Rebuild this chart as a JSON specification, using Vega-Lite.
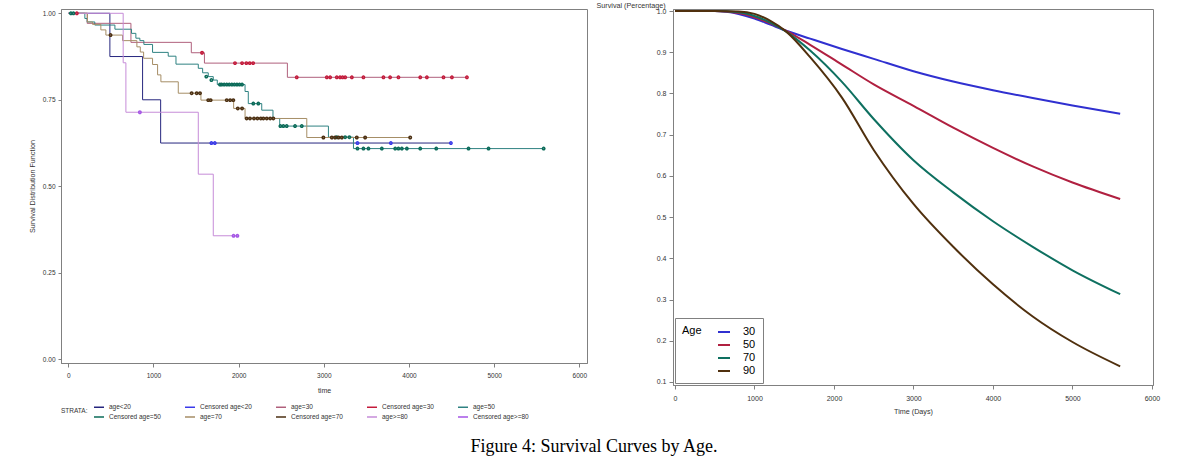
{
  "$schema": "https://vega.github.io/schema/vega-lite/v6.json",
  "padding": {"left": 27, "top": 0, "right": 0, "bottom": 0},
  "spacing": 7,
  "config": {
    "font": "Liberation Sans",
    "view": {"stroke": "#808080"},
    "axis": {"grid": false, "domainColor": "#808080", "tickColor": "#808080", "labelColor": "#333333", "titleColor": "#333333", "titleFontWeight": "normal"}
  },
  "title": {
    "text": "Figure 4: Survival Curves by Age.",
    "orient": "bottom", "anchor": "middle", "offset": 16,
    "font": "Liberation Serif", "fontSize": 18, "fontWeight": "normal", "color": "black"
  },
  "datasets": {
    "km": [
      {"key": "age<20", "t": 0, "s": 1}, {"key": "age<20", "t": 488, "s": 0.875}, {"key": "age<20", "t": 872, "s": 0.75}, {"key": "age<20", "t": 1084, "s": 0.625}, {"key": "age<20", "t": 4492, "s": 0.625},
      {"key": "age=30", "t": 0, "s": 1}, {"key": "age=30", "t": 221, "s": 0.971}, {"key": "age=30", "t": 735, "s": 0.916}, {"key": "age=30", "t": 1444, "s": 0.886}, {"key": "age=30", "t": 1598, "s": 0.856}, {"key": "age=30", "t": 2572, "s": 0.815}, {"key": "age=30", "t": 4680, "s": 0.815},
      {"key": "age=50", "t": 0, "s": 1}, {"key": "age=50", "t": 194, "s": 0.985}, {"key": "age=50", "t": 221, "s": 0.975}, {"key": "age=50", "t": 311, "s": 0.966}, {"key": "age=50", "t": 547, "s": 0.954}, {"key": "age=50", "t": 742, "s": 0.942}, {"key": "age=50", "t": 793, "s": 0.928}, {"key": "age=50", "t": 840, "s": 0.921}, {"key": "age=50", "t": 887, "s": 0.91}, {"key": "age=50", "t": 989, "s": 0.887}, {"key": "age=50", "t": 1173, "s": 0.876}, {"key": "age=50", "t": 1264, "s": 0.853}, {"key": "age=50", "t": 1526, "s": 0.841}, {"key": "age=50", "t": 1577, "s": 0.828}, {"key": "age=50", "t": 1643, "s": 0.817}, {"key": "age=50", "t": 1702, "s": 0.807}, {"key": "age=50", "t": 1749, "s": 0.794}, {"key": "age=50", "t": 2075, "s": 0.774}, {"key": "age=50", "t": 2113, "s": 0.739}, {"key": "age=50", "t": 2271, "s": 0.72}, {"key": "age=50", "t": 2403, "s": 0.696}, {"key": "age=50", "t": 2482, "s": 0.674}, {"key": "age=50", "t": 3054, "s": 0.642}, {"key": "age=50", "t": 3348, "s": 0.609}, {"key": "age=50", "t": 5581, "s": 0.609},
      {"key": "age=70", "t": 0, "s": 1}, {"key": "age=70", "t": 225, "s": 0.975}, {"key": "age=70", "t": 284, "s": 0.968}, {"key": "age=70", "t": 382, "s": 0.952}, {"key": "age=70", "t": 441, "s": 0.937}, {"key": "age=70", "t": 637, "s": 0.921}, {"key": "age=70", "t": 805, "s": 0.903}, {"key": "age=70", "t": 845, "s": 0.888}, {"key": "age=70", "t": 884, "s": 0.87}, {"key": "age=70", "t": 989, "s": 0.852}, {"key": "age=70", "t": 1048, "s": 0.822}, {"key": "age=70", "t": 1087, "s": 0.802}, {"key": "age=70", "t": 1291, "s": 0.769}, {"key": "age=70", "t": 1557, "s": 0.749}, {"key": "age=70", "t": 1941, "s": 0.725}, {"key": "age=70", "t": 2075, "s": 0.696}, {"key": "age=70", "t": 2800, "s": 0.641}, {"key": "age=70", "t": 4014, "s": 0.641},
      {"key": "age>=80", "t": 0, "s": 1}, {"key": "age>=80", "t": 644, "s": 0.857}, {"key": "age>=80", "t": 676, "s": 0.714}, {"key": "age>=80", "t": 1526, "s": 0.535}, {"key": "age>=80", "t": 1702, "s": 0.357}, {"key": "age>=80", "t": 1992, "s": 0.357}
    ],
    "cens": [
      {"key": "Censored age<20", "t": 1680, "s": 0.625}, {"key": "Censored age<20", "t": 1720, "s": 0.625}, {"key": "Censored age<20", "t": 3395, "s": 0.625}, {"key": "Censored age<20", "t": 3787, "s": 0.625}, {"key": "Censored age<20", "t": 4492, "s": 0.625},
      {"key": "Censored age=30", "t": 100, "s": 1}, {"key": "Censored age=30", "t": 1570, "s": 0.886}, {"key": "Censored age=30", "t": 1957, "s": 0.856}, {"key": "Censored age=30", "t": 2040, "s": 0.856}, {"key": "Censored age=30", "t": 2090, "s": 0.856}, {"key": "Censored age=30", "t": 2130, "s": 0.856}, {"key": "Censored age=30", "t": 2170, "s": 0.856},
      {"key": "Censored age=30", "t": 2682, "s": 0.815}, {"key": "Censored age=30", "t": 3035, "s": 0.815}, {"key": "Censored age=30", "t": 3074, "s": 0.815}, {"key": "Censored age=30", "t": 3152, "s": 0.815}, {"key": "Censored age=30", "t": 3190, "s": 0.815}, {"key": "Censored age=30", "t": 3220, "s": 0.815}, {"key": "Censored age=30", "t": 3251, "s": 0.815}, {"key": "Censored age=30", "t": 3329, "s": 0.815}, {"key": "Censored age=30", "t": 3465, "s": 0.815}, {"key": "Censored age=30", "t": 3700, "s": 0.815}, {"key": "Censored age=30", "t": 3778, "s": 0.815}, {"key": "Censored age=30", "t": 3876, "s": 0.815}, {"key": "Censored age=30", "t": 4132, "s": 0.815}, {"key": "Censored age=30", "t": 4210, "s": 0.815}, {"key": "Censored age=30", "t": 4405, "s": 0.815}, {"key": "Censored age=30", "t": 4504, "s": 0.815}, {"key": "Censored age=30", "t": 4680, "s": 0.815},
      {"key": "Censored age=50", "t": 30, "s": 1}, {"key": "Censored age=50", "t": 60, "s": 1}, {"key": "Censored age=50", "t": 1620, "s": 0.817}, {"key": "Censored age=50", "t": 1680, "s": 0.807}, {"key": "Censored age=50", "t": 1780, "s": 0.794}, {"key": "Censored age=50", "t": 1800, "s": 0.794}, {"key": "Censored age=50", "t": 1830, "s": 0.794}, {"key": "Censored age=50", "t": 1860, "s": 0.794}, {"key": "Censored age=50", "t": 1890, "s": 0.794}, {"key": "Censored age=50", "t": 1920, "s": 0.794}, {"key": "Censored age=50", "t": 1950, "s": 0.794}, {"key": "Censored age=50", "t": 1980, "s": 0.794}, {"key": "Censored age=50", "t": 2010, "s": 0.794}, {"key": "Censored age=50", "t": 2040, "s": 0.794},
      {"key": "Censored age=50", "t": 2172, "s": 0.739}, {"key": "Censored age=50", "t": 2231, "s": 0.739}, {"key": "Censored age=50", "t": 2490, "s": 0.674}, {"key": "Censored age=50", "t": 2525, "s": 0.674}, {"key": "Censored age=50", "t": 2564, "s": 0.674}, {"key": "Censored age=50", "t": 2662, "s": 0.674}, {"key": "Censored age=50", "t": 2741, "s": 0.674}, {"key": "Censored age=50", "t": 3150, "s": 0.642}, {"key": "Censored age=50", "t": 3250, "s": 0.642}, {"key": "Censored age=50", "t": 3300, "s": 0.642},
      {"key": "Censored age=50", "t": 3395, "s": 0.609}, {"key": "Censored age=50", "t": 3465, "s": 0.609}, {"key": "Censored age=50", "t": 3524, "s": 0.609}, {"key": "Censored age=50", "t": 3681, "s": 0.609}, {"key": "Censored age=50", "t": 3838, "s": 0.609}, {"key": "Censored age=50", "t": 3876, "s": 0.609}, {"key": "Censored age=50", "t": 3916, "s": 0.609}, {"key": "Censored age=50", "t": 3975, "s": 0.609}, {"key": "Censored age=50", "t": 4132, "s": 0.609}, {"key": "Censored age=50", "t": 4320, "s": 0.609}, {"key": "Censored age=50", "t": 4699, "s": 0.609}, {"key": "Censored age=50", "t": 4934, "s": 0.609}, {"key": "Censored age=50", "t": 5581, "s": 0.609},
      {"key": "Censored age=70", "t": 496, "s": 0.937}, {"key": "Censored age=70", "t": 1448, "s": 0.769}, {"key": "Censored age=70", "t": 1507, "s": 0.769}, {"key": "Censored age=70", "t": 1546, "s": 0.769}, {"key": "Censored age=70", "t": 1643, "s": 0.749}, {"key": "Censored age=70", "t": 1671, "s": 0.749}, {"key": "Censored age=70", "t": 1860, "s": 0.749}, {"key": "Censored age=70", "t": 1900, "s": 0.749}, {"key": "Censored age=70", "t": 1937, "s": 0.749}, {"key": "Censored age=70", "t": 1990, "s": 0.725}, {"key": "Censored age=70", "t": 2040, "s": 0.725},
      {"key": "Censored age=70", "t": 2094, "s": 0.696}, {"key": "Censored age=70", "t": 2133, "s": 0.696}, {"key": "Censored age=70", "t": 2180, "s": 0.696}, {"key": "Censored age=70", "t": 2220, "s": 0.696}, {"key": "Censored age=70", "t": 2260, "s": 0.696}, {"key": "Censored age=70", "t": 2290, "s": 0.696}, {"key": "Censored age=70", "t": 2330, "s": 0.696}, {"key": "Censored age=70", "t": 2370, "s": 0.696}, {"key": "Censored age=70", "t": 2407, "s": 0.696},
      {"key": "Censored age=70", "t": 2995, "s": 0.641}, {"key": "Censored age=70", "t": 3094, "s": 0.641}, {"key": "Censored age=70", "t": 3132, "s": 0.641}, {"key": "Censored age=70", "t": 3172, "s": 0.641}, {"key": "Censored age=70", "t": 3211, "s": 0.641}, {"key": "Censored age=70", "t": 3387, "s": 0.641}, {"key": "Censored age=70", "t": 3485, "s": 0.641}, {"key": "Censored age=70", "t": 4014, "s": 0.641},
      {"key": "Censored age>=80", "t": 840, "s": 0.714}, {"key": "Censored age>=80", "t": 1940, "s": 0.357}, {"key": "Censored age>=80", "t": 1985, "s": 0.357}
    ],
    "pred": [
      {"age": "30", "t": 0, "s": 1}, {"age": "30", "t": 500, "s": 1}, {"age": "30", "t": 800, "s": 0.993}, {"age": "30", "t": 1000, "s": 0.982}, {"age": "30", "t": 1200, "s": 0.967}, {"age": "30", "t": 1400, "s": 0.952}, {"age": "30", "t": 1700, "s": 0.933}, {"age": "30", "t": 2100, "s": 0.908}, {"age": "30", "t": 2500, "s": 0.884}, {"age": "30", "t": 3000, "s": 0.854}, {"age": "30", "t": 3500, "s": 0.829}, {"age": "30", "t": 4000, "s": 0.808}, {"age": "30", "t": 4500, "s": 0.789}, {"age": "30", "t": 5000, "s": 0.771}, {"age": "30", "t": 5600, "s": 0.751},
      {"age": "50", "t": 0, "s": 1}, {"age": "50", "t": 500, "s": 1}, {"age": "50", "t": 800, "s": 0.995}, {"age": "50", "t": 1000, "s": 0.985}, {"age": "50", "t": 1200, "s": 0.97}, {"age": "50", "t": 1400, "s": 0.952}, {"age": "50", "t": 1700, "s": 0.918}, {"age": "50", "t": 2100, "s": 0.87}, {"age": "50", "t": 2500, "s": 0.822}, {"age": "50", "t": 3000, "s": 0.77}, {"age": "50", "t": 3500, "s": 0.717}, {"age": "50", "t": 4000, "s": 0.668}, {"age": "50", "t": 4500, "s": 0.623}, {"age": "50", "t": 5000, "s": 0.584}, {"age": "50", "t": 5600, "s": 0.544},
      {"age": "70", "t": 0, "s": 1}, {"age": "70", "t": 500, "s": 1}, {"age": "70", "t": 800, "s": 0.997}, {"age": "70", "t": 1000, "s": 0.988}, {"age": "70", "t": 1200, "s": 0.972}, {"age": "70", "t": 1400, "s": 0.95}, {"age": "70", "t": 1700, "s": 0.904}, {"age": "70", "t": 2100, "s": 0.828}, {"age": "70", "t": 2500, "s": 0.738}, {"age": "70", "t": 3000, "s": 0.638}, {"age": "70", "t": 3500, "s": 0.56}, {"age": "70", "t": 4000, "s": 0.49}, {"age": "70", "t": 4500, "s": 0.428}, {"age": "70", "t": 5000, "s": 0.371}, {"age": "70", "t": 5600, "s": 0.313},
      {"age": "90", "t": 0, "s": 1}, {"age": "90", "t": 500, "s": 1}, {"age": "90", "t": 800, "s": 0.999}, {"age": "90", "t": 1000, "s": 0.993}, {"age": "90", "t": 1200, "s": 0.976}, {"age": "90", "t": 1400, "s": 0.95}, {"age": "90", "t": 1700, "s": 0.888}, {"age": "90", "t": 2100, "s": 0.79}, {"age": "90", "t": 2500, "s": 0.663}, {"age": "90", "t": 3000, "s": 0.532}, {"age": "90", "t": 3500, "s": 0.428}, {"age": "90", "t": 4000, "s": 0.337}, {"age": "90", "t": 4500, "s": 0.259}, {"age": "90", "t": 5000, "s": 0.197}, {"age": "90", "t": 5600, "s": 0.138}
    ]
  },
  "resolve": {"scale": {"color": "independent"}},
  "hconcat": [
    {
      "width": 526,
      "height": 354,
      "layer": [
        {
          "data": {"name": "km"},
          "mark": {"type": "line", "interpolate": "step-after", "strokeWidth": 1},
          "encoding": {
            "x": {"field": "t", "type": "quantitative",
              "scale": {"domain": [-86, 6090], "nice": false, "zero": false},
              "axis": {"values": [0, 1000, 2000, 3000, 4000, 5000, 6000], "format": "d", "labelFontSize": 6.5, "tickSize": 4, "labelPadding": 5, "title": "time", "titleFontSize": 7, "titlePadding": 8}},
            "y": {"field": "s", "type": "quantitative",
              "scale": {"domain": [-0.0107, 1.0124], "nice": false, "zero": false},
              "axis": {"values": [0, 0.25, 0.5, 0.75, 1], "format": ".2f", "labelFontSize": 6.5, "tickSize": 3, "labelPadding": 3, "title": "Survival Distribution Function", "titleFontSize": 7.2, "titlePadding": 6}},
            "color": {"field": "key", "type": "nominal",
              "scale": {
                "domain": ["age<20", "Censored age<20", "age=30", "Censored age=30", "age=50", "Censored age=50", "age=70", "Censored age=70", "age>=80", "Censored age>=80"],
                "range": ["#26267e", "#3a3aea", "#b0607c", "#c41a3a", "#2f8282", "#0b6b58", "#a68e66", "#4b2f12", "#c68cd8", "#a455e6"]
              },
              "legend": {
                "title": "STRATA:", "orient": "bottom", "direction": "horizontal", "columns": 5, "rowPadding": 0, "columnPadding": 21, "offset": 7,
                "titleOrient": "left", "titleFontSize": 6.5, "titleFontWeight": "normal", "titleColor": "#333333",
                "labelFontSize": 6.5, "labelColor": "#333333", "symbolType": "stroke", "symbolSize": 100, "symbolStrokeWidth": 1.5
              }
            }
          }
        },
        {
          "data": {"name": "cens"},
          "mark": {"type": "point", "filled": false, "size": 6, "strokeWidth": 1.5, "opacity": 1},
          "encoding": {
            "x": {"field": "t", "type": "quantitative"},
            "y": {"field": "s", "type": "quantitative"},
            "color": {"field": "key", "type": "nominal"}
          }
        }
      ]
    },
    {
      "width": 480,
      "height": 376,
      "data": {"name": "pred"},
      "mark": {"type": "line", "interpolate": "monotone", "strokeWidth": 2},
      "encoding": {
        "x": {"field": "t", "type": "quantitative",
          "scale": {"domain": [-25, 6013], "nice": false, "zero": false},
          "axis": {"values": [0, 1000, 2000, 3000, 4000, 5000, 6000], "format": "d", "labelFontSize": 7, "tickSize": 4, "labelPadding": 5, "title": "Time (Days)", "titleFontSize": 7.2, "titlePadding": 6}},
        "y": {"field": "s", "type": "quantitative",
          "scale": {"domain": [0.0927, 1.0049], "nice": false, "zero": false},
          "axis": {"values": [0.1, 0.2, 0.3, 0.4, 0.5, 0.6, 0.7, 0.8, 0.9, 1.0], "format": ".1f", "labelFontSize": 7, "tickSize": 4, "labelPadding": 3,
            "title": "Survival (Percentage)", "titleFontSize": 7.2, "titleAngle": 0, "titleAlign": "left", "titleBaseline": "middle", "titleX": -77, "titleY": -4}},
        "color": {"field": "age", "type": "nominal",
          "scale": {"domain": ["30", "50", "70", "90"], "range": ["#3030d0", "#b02040", "#0e7060", "#50300e"]},
          "legend": {
            "title": "Age", "orient": "bottom-left", "offset": 2, "strokeColor": "#808080", "padding": 7,
            "titleOrient": "left", "titleAnchor": "start", "titlePadding": 15, "titleFontSize": 11, "titleFontWeight": "normal", "titleColor": "black",
            "labelFontSize": 11, "labelColor": "black", "labelOffset": 12, "symbolType": "stroke", "symbolSize": 144, "symbolStrokeWidth": 2, "rowPadding": 1
          }
        }
      }
    }
  ]
}
